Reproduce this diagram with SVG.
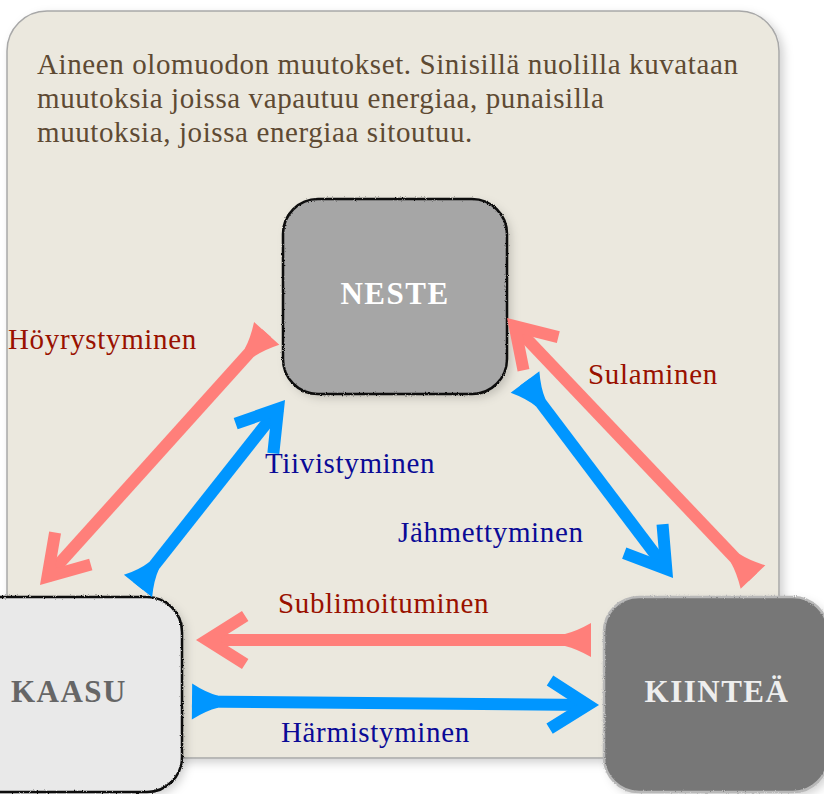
<svg xmlns="http://www.w3.org/2000/svg" width="824" height="794" viewBox="0 0 824 794">
<defs>
<style>
.title{font-family:"Liberation Serif","Times New Roman",serif;font-size:29px;fill:#5e4a33;letter-spacing:0.6px}
.lbl{font-family:"Liberation Serif","Times New Roman",serif;font-size:29px;letter-spacing:0.65px}
.red{fill:#991100}
.blue{fill:#0a0a96}
.node-t{font-family:"Liberation Serif","Times New Roman",serif;font-size:31px;font-weight:bold;text-anchor:middle;letter-spacing:1.5px}
.ar{fill:none;stroke-width:12;stroke-linecap:butt}
.ar-r{stroke:#ff7f7a}
.ar-b{stroke:#0096ff}
.box-s{fill:none;stroke-width:2.5}
</style>
<filter id="shadow" x="-20%" y="-20%" width="140%" height="140%">
<feDropShadow dx="4" dy="4" stdDeviation="5" flood-color="#000" flood-opacity="0.18"/>
</filter>
<filter id="rough" x="-5%" y="-5%" width="110%" height="110%">
<feTurbulence type="fractalNoise" baseFrequency="0.9" numOctaves="2" seed="4" result="n"/>
<feDisplacementMap in="SourceGraphic" in2="n" scale="2.5" xChannelSelector="R" yChannelSelector="G"/>
</filter>
<marker id="headR" markerUnits="userSpaceOnUse" markerWidth="80" markerHeight="80" viewBox="-50 -40 80 80" refX="0" refY="0" orient="auto" overflow="visible">
<path d="M-39.2,-24 L-1.2,0 L-39.2,24" fill="none" stroke="#ff7f7a" stroke-width="12"/>
</marker>
<marker id="headB" markerUnits="userSpaceOnUse" markerWidth="80" markerHeight="80" viewBox="-50 -40 80 80" refX="0" refY="0" orient="auto" overflow="visible">
<path d="M-39.2,-24 L-1.2,0 L-39.2,24" fill="none" stroke="#0096ff" stroke-width="12"/>
</marker>
<marker id="tailR" markerUnits="userSpaceOnUse" markerWidth="80" markerHeight="80" viewBox="-40 -40 80 80" refX="0" refY="0" orient="auto-start-reverse" overflow="visible">
<path d="M0,-17 Q-14,-9 -26,-6 L-26,6 Q-14,9 0,17 Z" fill="#ff7f7a"/>
</marker>
<marker id="tailB" markerUnits="userSpaceOnUse" markerWidth="80" markerHeight="80" viewBox="-40 -40 80 80" refX="0" refY="0" orient="auto-start-reverse" overflow="visible">
<path d="M0,-18 Q-14,-9 -26,-6 L-26,6 Q-14,9 0,18 Z" fill="#0096ff"/>
</marker>
</defs>

<g id="panel">
<rect x="7" y="11" width="772" height="747" rx="40" fill="#ebe8de" stroke="#a8a8a8" stroke-width="1.5" filter="url(#shadow)"/>
<text class="title" x="37" y="74">Aineen olomuodon muutokset. Sinisillä nuolilla kuvataan</text>
<text class="title" x="37" y="108">muutoksia joissa vapautuu energiaa, punaisilla</text>
<text class="title" x="37" y="142">muutoksia, joissa energiaa sitoutuu.</text>
</g>

<g id="neste">
<rect x="283" y="199" width="224" height="195" rx="35" fill="#a6a6a6" filter="url(#shadow)"/>
<rect x="283" y="199" width="224" height="195" rx="35" class="box-s" stroke="#111" filter="url(#rough)"/>
<text class="node-t" x="395" y="304" fill="#ffffff">NESTE</text>
</g>

<g id="kaasu">
<rect x="-42" y="597" width="224" height="195" rx="35" fill="#e9e9e9" filter="url(#shadow)"/>
<rect x="-42" y="597" width="224" height="195" rx="35" class="box-s" stroke="#111" filter="url(#rough)"/>
<text class="node-t" x="69" y="702" fill="#666666">KAASU</text>
</g>

<g id="kiintea">
<rect x="604" y="597" width="224" height="195" rx="35" fill="#777777" filter="url(#shadow)"/>
<rect x="604" y="597" width="224" height="195" rx="35" class="box-s" stroke="#b8b8b8" filter="url(#rough)"/>
<text class="node-t" x="717" y="702" fill="#eeeeee">KIINTEÄ</text>
</g>

<g id="connectors">
<path class="ar ar-r" d="M266.7,333.3 L46.7,577.6" marker-start="url(#tailR)" marker-end="url(#headR)"/>
<path class="ar ar-b" d="M138,586 L278.8,407.8" marker-start="url(#tailB)" marker-end="url(#headB)"/>
<path class="ar ar-r" d="M753,577 L513.9,325.3" marker-start="url(#tailR)" marker-end="url(#headR)"/>
<path class="ar ar-b" d="M525,382 L667,570" marker-start="url(#tailB)" marker-end="url(#headB)"/>
<path class="ar ar-r" d="M591,640 L206,640" marker-start="url(#tailR)" marker-end="url(#headR)"/>
<path class="ar ar-b" d="M192,701.5 L589,704.9" marker-start="url(#tailB)" marker-end="url(#headB)"/>
</g>

<g id="labels">
<text class="lbl red" x="8" y="349">Höyrystyminen</text>
<text class="lbl blue" x="265" y="473">Tiivistyminen</text>
<text class="lbl red" x="588" y="384">Sulaminen</text>
<text class="lbl blue" x="398" y="542">Jähmettyminen</text>
<text class="lbl red" x="278" y="613">Sublimoituminen</text>
<text class="lbl blue" x="281" y="742">Härmistyminen</text>
</g>
</svg>
